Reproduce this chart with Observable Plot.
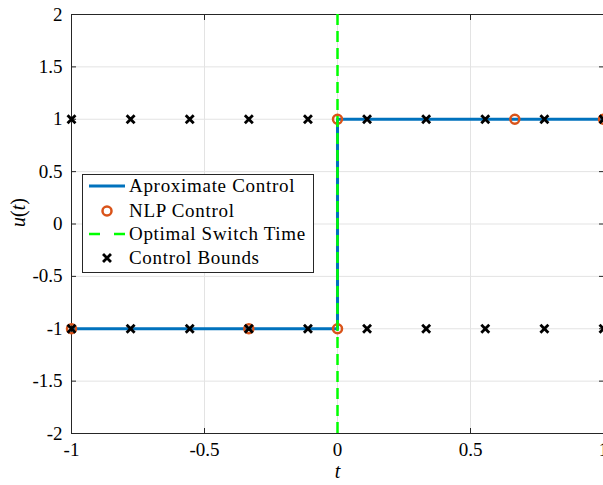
<!DOCTYPE html>
<html><head><meta charset="utf-8">
<script src="https://cdn.jsdelivr.net/npm/d3@7"></script>
<script src="https://cdn.jsdelivr.net/npm/@observablehq/plot@0.6"></script>
<style>
body{margin:0;background:#fff;}
#wrap{position:relative;width:603px;height:485px;overflow:hidden;}
#legend{position:absolute;left:82px;top:174px;width:232px;height:99px;border:1px solid #262626;background:#fff;box-sizing:border-box;font-family:"Liberation Serif",serif;font-size:19px;letter-spacing:0.7px;color:#000;}
.row{position:absolute;left:0;height:22px;width:230px;}
.row svg{position:absolute;left:0;top:0;}
.row span{position:absolute;left:46px;top:0;line-height:22px;white-space:nowrap;}
</style></head><body><div id="wrap"></div>
<script>
// ---- data ----
const boundT = [-1, -7/9, -5/9, -3/9, -1/9, 1/9, 3/9, 5/9, 7/9, 1];
const boundLevels = [1, -1];
const nlpT = [-1, -1/3, 0, 0, 2/3, 1];
const nlpU = [-1, -1, -1, 1, 1, 1];
const approxT = [-1, 0, 0, 1];
const approxU = [-1, -1, 1, 1];
const switchTime = [0];
const xTicks = [-1, -0.5, 0, 0.5, 1];
const yTicks = [-2, -1.5, -1, -0.5, 0, 0.5, 1, 1.5, 2];
const seriesNames = ["Aproximate Control", "NLP Control", "Optimal Switch Time", "Control Bounds"];
const xLabel = "t";
const yLabel = "u(t)";

const approx = approxT.map((t, i) => ({t, u: approxU[i]}));
const nlp = nlpT.map((t, i) => ({t, u: nlpU[i]}));
const bounds = boundLevels.flatMap(u => boundT.map(t => ({t, u})));

const blue = "#0072BD", orange = "#D95319", green = "#00FF00", axisC = "#262626", gridC = "#e3e3e3";
const fmt = d => String(d);

const chart = Plot.plot({
  width: 603, height: 485,
  marginLeft: 71, marginRight: 0, marginTop: 14, marginBottom: 52,
  x: {domain: [-1, 1]},
  y: {domain: [-2, 2]},
  style: {fontFamily: "'Liberation Serif', serif", fontSize: "19px", color: "#000", background: "#fff"},
  marks: [
    Plot.gridX(xTicks, {stroke: gridC, strokeOpacity: 1}),
    Plot.gridY(yTicks, {stroke: gridC, strokeOpacity: 1}),
    Plot.frame({stroke: axisC}),
    // inward ticks
    Plot.axisX(xTicks, {anchor: "bottom", tickSize: 5, dy: -5, tickFormat: () => "", stroke: axisC, label: null}),
    Plot.axisX(xTicks, {anchor: "top", tickSize: 5, dy: 5, tickFormat: () => "", stroke: axisC, label: null}),
    Plot.axisY(yTicks, {anchor: "left", tickSize: 5, dx: 5, tickFormat: () => "", stroke: axisC, label: null}),
    Plot.axisY(yTicks, {anchor: "right", tickSize: 5, dx: -5, tickFormat: () => "", stroke: axisC, label: null}),
    // tick labels
    Plot.axisX(xTicks, {anchor: "bottom", tickSize: 0, tickPadding: 9, tickFormat: fmt, label: null}),
    Plot.axisY(yTicks, {anchor: "left", tickSize: 0, tickPadding: 9, tickFormat: fmt, label: null}),
    // axis titles
    Plot.text([xLabel], {text: d => d, frameAnchor: "bottom", dy: 44, fontStyle: "italic", fontSize: 20}),
    Plot.text([yLabel], {text: d => d, frameAnchor: "left", dx: -53, dy: 3, rotate: -90, fontSize: 20}),
    // data
    Plot.line(approx, {x: "t", y: "u", stroke: blue, strokeWidth: 3}),
    Plot.dot(nlp, {x: "t", y: "u", stroke: orange, strokeWidth: 2.5, r: 4.5, fill: "none"}),
    Plot.ruleX(switchTime, {stroke: green, strokeWidth: 2.5, strokeDasharray: "11,6"}),
    Plot.dot(bounds, {x: "t", y: "u", symbol: "times", r: 3.7, stroke: "#000", strokeWidth: 2.8})
  ]
});
document.getElementById("wrap").appendChild(chart);

// italic u and t, upright parentheses
d3.select(chart).selectAll("text").filter(function() { return this.textContent === yLabel; })
  .each(function() {
    const el = d3.select(this);
    el.text("");
    el.append("tspan").attr("font-style", "italic").text("u");
    el.append("tspan").text("(");
    el.append("tspan").attr("font-style", "italic").text("t");
    el.append("tspan").text(")");
  });

// legend
const legend = d3.select("#wrap").append("div").attr("id", "legend");
const rowTops = [0, 25, 48, 72];
seriesNames.forEach((name, i) => {
  const row = legend.append("div").attr("class", "row").style("top", rowTops[i] + "px");
  const s = row.append("svg").attr("width", 46).attr("height", 22);
  if (i === 0) s.append("line").attr("x1", 6).attr("x2", 42).attr("y1", 11).attr("y2", 11).attr("stroke", blue).attr("stroke-width", 3);
  if (i === 1) s.append("circle").attr("cx", 24).attr("cy", 11).attr("r", 4.5).attr("fill", "none").attr("stroke", orange).attr("stroke-width", 2.5);
  if (i === 2) s.append("line").attr("x1", 6).attr("x2", 42).attr("y1", 11).attr("y2", 11).attr("stroke", green).attr("stroke-width", 2.5).attr("stroke-dasharray", "11,14");
  if (i === 3) s.append("path").attr("d", d3.symbol(d3.symbolTimes, 43)()).attr("transform", "translate(24,11)").attr("fill", "none").attr("stroke", "#000").attr("stroke-width", 2.8);
  row.append("span").text(name);
});
</script></body></html>
